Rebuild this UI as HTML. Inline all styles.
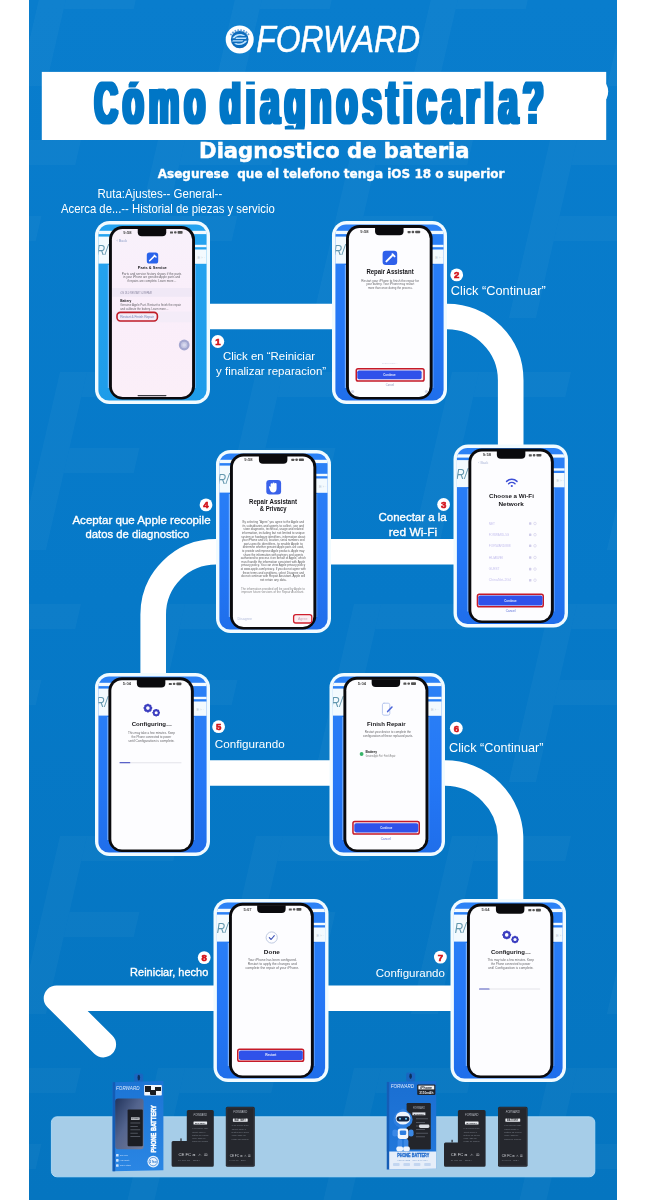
<!DOCTYPE html>
<html lang="es"><head><meta charset="utf-8"><title>Cómo diagnosticarla?</title>
<style>
html,body{margin:0;padding:0;background:#fff;}
body{width:646px;height:1200px;overflow:hidden;position:relative;font-family:"Liberation Sans",sans-serif;}
svg{position:absolute;left:0;top:0;display:block;}
text{white-space:pre;}
</style></head><body>
<svg width="646" height="1200" viewBox="0 0 646 1200">
<defs>
<linearGradient id="cg1" x1="0" y1="0" x2="0" y2="1"><stop offset="0" stop-color="#25a4f0"/><stop offset="1" stop-color="#1e9ce9"/></linearGradient>
<linearGradient id="cg2" x1="0" y1="0" x2="0" y2="1"><stop offset="0" stop-color="#2c82f6"/><stop offset="0.6" stop-color="#2477f6"/><stop offset="1" stop-color="#1f6eea"/></linearGradient>
<linearGradient id="sg1" x1="0" y1="0" x2="0" y2="1"><stop offset="0" stop-color="#f8f1fb"/><stop offset="0.5" stop-color="#faeefa"/><stop offset="1" stop-color="#fbeff8"/></linearGradient>
<filter id="fat" x="-5%" y="-20%" width="110%" height="140%"><feMorphology operator="dilate" radius="2 0.5"/></filter>
</defs>
<linearGradient id="bgg" x1="0" y1="0" x2="0" y2="1"><stop offset="0" stop-color="#097dcd"/><stop offset="0.5" stop-color="#0679c8"/><stop offset="1" stop-color="#0575c0"/></linearGradient>
<rect x="29" y="0" width="588" height="1200" fill="url(#bgg)"/>
<clipPath id="bgc"><rect x="29" y="0" width="588" height="1200"/></clipPath>
<g clip-path="url(#bgc)" fill="#ffffff" opacity="0.035">
<g transform="translate(-38,-324) skewX(-13)"><rect x="0" y="0" width="27" height="178"/><rect x="27" y="0" width="92" height="25"/><rect x="27" y="76" width="70" height="25"/></g>
<g transform="translate(158,-324) skewX(-13)"><rect x="0" y="0" width="27" height="178"/><rect x="27" y="0" width="92" height="25"/><rect x="27" y="76" width="70" height="25"/></g>
<g transform="translate(354,-324) skewX(-13)"><rect x="0" y="0" width="27" height="178"/><rect x="27" y="0" width="92" height="25"/><rect x="27" y="76" width="70" height="25"/></g>
<g transform="translate(550,-324) skewX(-13)"><rect x="0" y="0" width="27" height="178"/><rect x="27" y="0" width="92" height="25"/><rect x="27" y="76" width="70" height="25"/></g>
<g transform="translate(746,-324) skewX(-13)"><rect x="0" y="0" width="27" height="178"/><rect x="27" y="0" width="92" height="25"/><rect x="27" y="76" width="70" height="25"/></g>
<g transform="translate(-136,-92) skewX(-13)"><rect x="0" y="0" width="27" height="178"/><rect x="27" y="0" width="92" height="25"/><rect x="27" y="76" width="70" height="25"/></g>
<g transform="translate(60,-92) skewX(-13)"><rect x="0" y="0" width="27" height="178"/><rect x="27" y="0" width="92" height="25"/><rect x="27" y="76" width="70" height="25"/></g>
<g transform="translate(256,-92) skewX(-13)"><rect x="0" y="0" width="27" height="178"/><rect x="27" y="0" width="92" height="25"/><rect x="27" y="76" width="70" height="25"/></g>
<g transform="translate(452,-92) skewX(-13)"><rect x="0" y="0" width="27" height="178"/><rect x="27" y="0" width="92" height="25"/><rect x="27" y="76" width="70" height="25"/></g>
<g transform="translate(648,-92) skewX(-13)"><rect x="0" y="0" width="27" height="178"/><rect x="27" y="0" width="92" height="25"/><rect x="27" y="76" width="70" height="25"/></g>
<g transform="translate(-38,140) skewX(-13)"><rect x="0" y="0" width="27" height="178"/><rect x="27" y="0" width="92" height="25"/><rect x="27" y="76" width="70" height="25"/></g>
<g transform="translate(158,140) skewX(-13)"><rect x="0" y="0" width="27" height="178"/><rect x="27" y="0" width="92" height="25"/><rect x="27" y="76" width="70" height="25"/></g>
<g transform="translate(354,140) skewX(-13)"><rect x="0" y="0" width="27" height="178"/><rect x="27" y="0" width="92" height="25"/><rect x="27" y="76" width="70" height="25"/></g>
<g transform="translate(550,140) skewX(-13)"><rect x="0" y="0" width="27" height="178"/><rect x="27" y="0" width="92" height="25"/><rect x="27" y="76" width="70" height="25"/></g>
<g transform="translate(746,140) skewX(-13)"><rect x="0" y="0" width="27" height="178"/><rect x="27" y="0" width="92" height="25"/><rect x="27" y="76" width="70" height="25"/></g>
<g transform="translate(-136,372) skewX(-13)"><rect x="0" y="0" width="27" height="178"/><rect x="27" y="0" width="92" height="25"/><rect x="27" y="76" width="70" height="25"/></g>
<g transform="translate(60,372) skewX(-13)"><rect x="0" y="0" width="27" height="178"/><rect x="27" y="0" width="92" height="25"/><rect x="27" y="76" width="70" height="25"/></g>
<g transform="translate(256,372) skewX(-13)"><rect x="0" y="0" width="27" height="178"/><rect x="27" y="0" width="92" height="25"/><rect x="27" y="76" width="70" height="25"/></g>
<g transform="translate(452,372) skewX(-13)"><rect x="0" y="0" width="27" height="178"/><rect x="27" y="0" width="92" height="25"/><rect x="27" y="76" width="70" height="25"/></g>
<g transform="translate(648,372) skewX(-13)"><rect x="0" y="0" width="27" height="178"/><rect x="27" y="0" width="92" height="25"/><rect x="27" y="76" width="70" height="25"/></g>
<g transform="translate(-38,604) skewX(-13)"><rect x="0" y="0" width="27" height="178"/><rect x="27" y="0" width="92" height="25"/><rect x="27" y="76" width="70" height="25"/></g>
<g transform="translate(158,604) skewX(-13)"><rect x="0" y="0" width="27" height="178"/><rect x="27" y="0" width="92" height="25"/><rect x="27" y="76" width="70" height="25"/></g>
<g transform="translate(354,604) skewX(-13)"><rect x="0" y="0" width="27" height="178"/><rect x="27" y="0" width="92" height="25"/><rect x="27" y="76" width="70" height="25"/></g>
<g transform="translate(550,604) skewX(-13)"><rect x="0" y="0" width="27" height="178"/><rect x="27" y="0" width="92" height="25"/><rect x="27" y="76" width="70" height="25"/></g>
<g transform="translate(746,604) skewX(-13)"><rect x="0" y="0" width="27" height="178"/><rect x="27" y="0" width="92" height="25"/><rect x="27" y="76" width="70" height="25"/></g>
<g transform="translate(-136,836) skewX(-13)"><rect x="0" y="0" width="27" height="178"/><rect x="27" y="0" width="92" height="25"/><rect x="27" y="76" width="70" height="25"/></g>
<g transform="translate(60,836) skewX(-13)"><rect x="0" y="0" width="27" height="178"/><rect x="27" y="0" width="92" height="25"/><rect x="27" y="76" width="70" height="25"/></g>
<g transform="translate(256,836) skewX(-13)"><rect x="0" y="0" width="27" height="178"/><rect x="27" y="0" width="92" height="25"/><rect x="27" y="76" width="70" height="25"/></g>
<g transform="translate(452,836) skewX(-13)"><rect x="0" y="0" width="27" height="178"/><rect x="27" y="0" width="92" height="25"/><rect x="27" y="76" width="70" height="25"/></g>
<g transform="translate(648,836) skewX(-13)"><rect x="0" y="0" width="27" height="178"/><rect x="27" y="0" width="92" height="25"/><rect x="27" y="76" width="70" height="25"/></g>
<g transform="translate(-38,1068) skewX(-13)"><rect x="0" y="0" width="27" height="178"/><rect x="27" y="0" width="92" height="25"/><rect x="27" y="76" width="70" height="25"/></g>
<g transform="translate(158,1068) skewX(-13)"><rect x="0" y="0" width="27" height="178"/><rect x="27" y="0" width="92" height="25"/><rect x="27" y="76" width="70" height="25"/></g>
<g transform="translate(354,1068) skewX(-13)"><rect x="0" y="0" width="27" height="178"/><rect x="27" y="0" width="92" height="25"/><rect x="27" y="76" width="70" height="25"/></g>
<g transform="translate(550,1068) skewX(-13)"><rect x="0" y="0" width="27" height="178"/><rect x="27" y="0" width="92" height="25"/><rect x="27" y="76" width="70" height="25"/></g>
<g transform="translate(746,1068) skewX(-13)"><rect x="0" y="0" width="27" height="178"/><rect x="27" y="0" width="92" height="25"/><rect x="27" y="76" width="70" height="25"/></g>
</g>
<rect x="41.8" y="71.9" width="564.4" height="68.1" fill="#ffffff"/>
<ellipse cx="602.6" cy="91.6" rx="5.6" ry="9.8" fill="#ffffff"/>
<g fill="none" stroke="#ffffff" stroke-width="25.6">
<path d="M200,316.5 H447 A63.7,63.7 0 0 1 510.7,380.2 V450"/>
<path d="M460,551.8 H216 A62.8,62.8 0 0 0 153.2,614.6 V680"/>
<path d="M200,773 H445 A65.5,65.5 0 0 1 510.5,838.5 V905"/>
<path d="M460,998.2 H56.5 L103.3,1044.6" stroke-linecap="round" stroke-linejoin="round"/>
</g>
<rect x="51.4" y="1116.8" width="543.4" height="60" rx="5.5" fill="#a6cde8" stroke="#b3ddf6" stroke-width="0.9"/>

<clipPath id="cc1"><rect x="98.4" y="224.4" width="108.2" height="176.2" rx="10.6"/></clipPath>
<rect x="95" y="221" width="115" height="183" rx="14.5" fill="#f1fbff"/>
<g clip-path="url(#cc1)">
<rect x="95" y="221" width="115" height="183" fill="url(#cg1)"/>
<rect x="95" y="230.8" width="115" height="3.3" fill="#f3fafe"/>
<rect x="95" y="236.6" width="57.0" height="27" fill="#f3fafe"/>
<text x="96.8" y="255.4" font-family="'Liberation Sans', sans-serif" font-style="italic" font-size="15.5" fill="#3f7f9a" opacity="0.8" textLength="11.5" lengthAdjust="spacingAndGlyphs">R/</text>
<rect x="152.0" y="244.8" width="115" height="2.4" fill="#f3fafe"/>
<rect x="152.0" y="249.5" width="115" height="14.3" fill="#f3fafe"/>
<text x="197.6" y="258.6" font-family="'Liberation Sans', sans-serif" font-size="4" fill="#b9c6d2">E › ·</text>
<rect x="107.8" y="265" width="1.6" height="123" fill="#9cc8ff" opacity="0.7"/>
<rect x="194.6" y="265" width="1.4" height="123" fill="#9cc8ff" opacity="0.5"/>
</g>
<rect x="109" y="226" width="86" height="173.5" rx="13.5" fill="#0a0a0d"/>
<rect x="111.9" y="228.9" width="80.2" height="168.2" rx="10.6" fill="url(#sg1)"/>
<path d="M137.75,228.5 h28.5 v3.6999999999999993 a4,4 0 0 1 -4,4 h-20.5 a4,4 0 0 1 -4,-4 z" fill="#0a0a0d"/>
<text transform="translate(123.33,233.60) scale(1.2191,1)" font-family="'Liberation Sans', sans-serif" font-size="3.4" font-weight="bold" font-style="normal" fill="#444" >9:58</text>
<g fill="#555"><rect x="170" y="231.4" width="3" height="2.2" rx="0.4"/><rect x="174" y="231.2" width="2.6" height="2.4" rx="1"/><rect x="177.6" y="231.1" width="5" height="2.6" rx="0.7"/></g>
<text transform="translate(116.45,242.30) scale(1.1873,1)" font-family="'Liberation Sans', sans-serif" font-size="3.2" font-weight="normal" font-style="normal" fill="#8fa0c8" >‹ Back</text>
<rect x="146.8" y="252.4" width="11.4" height="11.2" rx="2.6" fill="#2a63ea"/>
<path d="M149.6,260.8 l4.2,-4.2 m0.4,-1.4 l1.8,1.8" stroke="#fff" stroke-width="1.5" stroke-linecap="round" fill="none"/>
<text transform="translate(137.82,269.20) scale(0.9199,1)" font-family="'Liberation Sans', sans-serif" font-size="4.3" font-weight="bold" font-style="normal" fill="#1a1a1e" >Parts &amp; Service</text>
<text transform="translate(121.75,274.80) scale(0.9603,1)" font-family="'Liberation Sans', sans-serif" font-size="3.28" font-weight="normal" font-style="normal" fill="#4a4a4e" opacity="0.85">Parts and service history shows if the parts</text>
<text transform="translate(123.14,278.25) scale(0.9090,1)" font-family="'Liberation Sans', sans-serif" font-size="3.28" font-weight="normal" font-style="normal" fill="#4a4a4e" opacity="0.85">in your iPhone are genuine Apple parts and</text>
<text transform="translate(127.20,281.70) scale(0.9072,1)" font-family="'Liberation Sans', sans-serif" font-size="3.28" font-weight="normal" font-style="normal" fill="#4a4a4e" opacity="0.85">if repairs are complete. Learn more…</text>
<rect x="112.2" y="288" width="79.6" height="8.8" fill="#f0e8f6"/>
<text transform="translate(120.24,293.70) scale(0.8689,1)" font-family="'Liberation Sans', sans-serif" font-size="2.7" font-weight="normal" font-style="normal" fill="#8a86a0" >iOS 18.0 RESTART &amp; REPAIR</text>
<text transform="translate(120.18,301.90) scale(0.9156,1)" font-family="'Liberation Sans', sans-serif" font-size="3.5" font-weight="bold" font-style="normal" fill="#1a1a1e" >Battery</text>
<text transform="translate(120.25,306.40) scale(0.9305,1)" font-family="'Liberation Sans', sans-serif" font-size="3.16" font-weight="normal" font-style="normal" fill="#4a4a4e" opacity="0.85">Genuine Apple Part. Restart to finish the repair</text>
<text transform="translate(120.29,309.90) scale(0.8852,1)" font-family="'Liberation Sans', sans-serif" font-size="3.16" font-weight="normal" font-style="normal" fill="#4a4a4e" opacity="0.85">and calibrate the battery. Learn more…</text>
<rect x="112.2" y="311.5" width="79.6" height="10.8" fill="#f4ecf8"/>
<rect x="117" y="312.4" width="40.4" height="8.6" rx="3.4" fill="none" stroke="#c01c28" stroke-width="1.6"/>
<text transform="translate(120.14,317.90) scale(1.1247,1)" font-family="'Liberation Sans', sans-serif" font-size="2.9" font-weight="normal" font-style="normal" fill="#6d7fb5" >Restart &amp; Finish Repair</text>
<circle cx="184.2" cy="345" r="5.4" fill="#a3a6cf"/><circle cx="184.2" cy="345" r="3.2" fill="#c3c5e2"/><circle cx="184.2" cy="345" r="1.8" fill="#d8d9ee"/>
<rect x="137.5" y="394.9" width="29" height="1.3" rx="0.65" fill="#3a3a40"/>
<clipPath id="cc2"><rect x="335.4" y="224.4" width="108.2" height="176.2" rx="10.6"/></clipPath>
<rect x="332" y="221" width="115" height="183" rx="14.5" fill="#f1fbff"/>
<g clip-path="url(#cc2)">
<rect x="332" y="221" width="115" height="183" fill="url(#cg2)"/>
<rect x="332" y="230.8" width="115" height="3.3" fill="#f3fafe"/>
<rect x="332" y="236.6" width="57.30000000000001" height="27" fill="#f3fafe"/>
<text x="333.8" y="255.4" font-family="'Liberation Sans', sans-serif" font-style="italic" font-size="15.5" fill="#3f7f9a" opacity="0.8" textLength="11.5" lengthAdjust="spacingAndGlyphs">R/</text>
<rect x="389.3" y="244.8" width="115" height="2.4" fill="#f3fafe"/>
<rect x="389.3" y="249.5" width="115" height="14.3" fill="#f3fafe"/>
<text x="435.20000000000005" y="258.6" font-family="'Liberation Sans', sans-serif" font-size="4" fill="#b9c6d2">E › ·</text>
<rect x="344.8" y="265" width="1.6" height="123" fill="#9cc8ff" opacity="0.7"/>
<rect x="432.20000000000005" y="265" width="1.4" height="123" fill="#9cc8ff" opacity="0.5"/>
</g>
<rect x="346" y="225" width="86.60000000000002" height="174.39999999999998" rx="13.5" fill="#0a0a0d"/>
<rect x="348.9" y="227.9" width="80.80000000000003" height="169.09999999999997" rx="10.6" fill="#fdfdff"/>
<path d="M375.05,227.5 h28.5 v3.6999999999999993 a4,4 0 0 1 -4,4 h-20.5 a4,4 0 0 1 -4,-4 z" fill="#0a0a0d"/>
<text transform="translate(360.33,233.20) scale(1.2191,1)" font-family="'Liberation Sans', sans-serif" font-size="3.4" font-weight="bold" font-style="normal" fill="#444" >9:58</text>
<g fill="#555"><rect x="407.6" y="231.0" width="3" height="2.2" rx="0.4"/><rect x="411.6" y="230.79999999999998" width="2.6" height="2.4" rx="1"/><rect x="415.20000000000005" y="230.7" width="5" height="2.6" rx="0.7"/></g>
<rect x="382.6" y="250.8" width="14.6" height="14.2" rx="3.2" fill="#2f60ea"/>
<path d="M386.4,261.4 l5.4,-5.4 m0.6,-1.8 l2.2,2.2" stroke="#fff" stroke-width="1.9" stroke-linecap="round" fill="none"/>
<text transform="translate(366.38,274.00) scale(0.9561,1)" font-family="'Liberation Sans', sans-serif" font-size="6.3" font-weight="bold" font-style="normal" fill="#17171b" >Repair Assistant</text>
<text transform="translate(361.35,281.60) scale(0.9197,1)" font-family="'Liberation Sans', sans-serif" font-size="3.39" font-weight="normal" font-style="normal" fill="#4a4a4e" opacity="0.85">Restart your iPhone to finish the repair for</text>
<text transform="translate(366.17,285.30) scale(0.8666,1)" font-family="'Liberation Sans', sans-serif" font-size="3.39" font-weight="normal" font-style="normal" fill="#4a4a4e" opacity="0.85">your battery. Your iPhone may restart</text>
<text transform="translate(367.92,289.00) scale(0.8403,1)" font-family="'Liberation Sans', sans-serif" font-size="3.39" font-weight="normal" font-style="normal" fill="#4a4a4e" opacity="0.85">more than once during the process.</text>
<text transform="translate(381.78,363.80) scale(1.1299,1)" font-family="'Liberation Sans', sans-serif" font-size="2.4" font-weight="normal" font-style="normal" fill="#c9cde0" >Learn more…</text>
<rect x="356.25" y="368.75" width="67.80" height="12.20" rx="1.8" fill="#f6e9f0" stroke="#c51a28" stroke-width="1.5"/>
<rect x="357.3" y="370.4" width="64.30000000000001" height="8.800000000000011" rx="1.8" fill="#2f52ea"/>
<text transform="translate(383.34,375.90) scale(0.8803,1)" font-family="'Liberation Sans', sans-serif" font-size="3.2" font-weight="bold" font-style="normal" fill="#e8ecff" >Continue</text>
<text transform="translate(385.87,386.40) scale(0.9524,1)" font-family="'Liberation Sans', sans-serif" font-size="2.8" font-weight="normal" font-style="normal" fill="#8d93b8" >Cancel</text>
<circle cx="352.6" cy="391.6" r="1.6" fill="#d5d8ea"/><circle cx="426.4" cy="391.6" r="1.6" fill="#d5d8ea"/>
<clipPath id="cc3"><rect x="456.9" y="447.9" width="107.7" height="176.2" rx="10.6"/></clipPath>
<rect x="453.5" y="444.5" width="114.5" height="183.0" rx="14.5" fill="#f1fbff"/>
<g clip-path="url(#cc3)">
<rect x="453.5" y="444.5" width="114.5" height="183.0" fill="url(#cg2)"/>
<rect x="453.5" y="454.3" width="114.5" height="3.3" fill="#f3fafe"/>
<rect x="453.5" y="460.1" width="57.599999999999966" height="27" fill="#f3fafe"/>
<text x="456.2" y="478.9" font-family="'Liberation Sans', sans-serif" font-style="italic" font-size="15.5" fill="#3f7f9a" opacity="0.8" textLength="11.5" lengthAdjust="spacingAndGlyphs">R/</text>
<rect x="511.09999999999997" y="468.3" width="114.5" height="2.4" fill="#f3fafe"/>
<rect x="511.09999999999997" y="473.0" width="114.5" height="14.3" fill="#f3fafe"/>
<text x="556.4" y="482.1" font-family="'Liberation Sans', sans-serif" font-size="4" fill="#b9c6d2">E › ·</text>
<rect x="467.2" y="488.5" width="1.6" height="123.0" fill="#9cc8ff" opacity="0.7"/>
<rect x="553.4" y="488.5" width="1.4" height="123.0" fill="#9cc8ff" opacity="0.5"/>
</g>
<rect x="468.4" y="448.6" width="85.39999999999998" height="174.39999999999998" rx="13.5" fill="#0a0a0d"/>
<rect x="471.29999999999995" y="451.5" width="79.59999999999998" height="169.09999999999997" rx="10.6" fill="#fdfdff"/>
<path d="M496.84999999999997,451.1 h28.5 v3.6999999999999993 a4,4 0 0 1 -4,4 h-20.5 a4,4 0 0 1 -4,-4 z" fill="#0a0a0d"/>
<text transform="translate(482.73,456.40) scale(1.2191,1)" font-family="'Liberation Sans', sans-serif" font-size="3.4" font-weight="bold" font-style="normal" fill="#444" >9:58</text>
<g fill="#555"><rect x="528.8" y="454.20000000000005" width="3" height="2.2" rx="0.4"/><rect x="532.8" y="454.00000000000006" width="2.6" height="2.4" rx="1"/><rect x="536.4" y="453.90000000000003" width="5" height="2.6" rx="0.7"/></g>
<text transform="translate(478.26,464.20) scale(1.1201,1)" font-family="'Liberation Sans', sans-serif" font-size="3.2" font-weight="normal" font-style="normal" fill="#a9b4d6" >‹ Back</text>
<g fill="none" stroke="#3d4fd6" stroke-width="1.5" stroke-linecap="round"><path d="M506.6,481.4 a7.6,7.6 0 0 1 10.4,0"/><path d="M508.6,483.7 a4.7,4.7 0 0 1 6.4,0"/></g><circle cx="511.8" cy="486" r="1.1" fill="#3d4fd6"/>
<text transform="translate(489.05,498.30) scale(1.0041,1)" font-family="'Liberation Sans', sans-serif" font-size="6.2" font-weight="bold" font-style="normal" fill="#17171b" >Choose a Wi-Fi</text>
<text transform="translate(498.45,505.70) scale(1.0336,1)" font-family="'Liberation Sans', sans-serif" font-size="6.2" font-weight="bold" font-style="normal" fill="#17171b" >Network</text>
<text transform="translate(488.75,524.70) scale(0.9868,1)" font-family="'Liberation Sans', sans-serif" font-size="3.2" font-weight="normal" font-style="normal" fill="#c6c1ee" >NET</text>
<rect x="529" y="522.2" width="2.4" height="2.6" rx="0.6" fill="#d0cdea"/><circle cx="535" cy="523.5" r="1.3" fill="none" stroke="#d0cdea" stroke-width="0.6"/>
<text transform="translate(488.76,535.90) scale(0.9441,1)" font-family="'Liberation Sans', sans-serif" font-size="3.2" font-weight="normal" font-style="normal" fill="#c6c1ee" >FORWARD-5G</text>
<rect x="529" y="533.4" width="2.4" height="2.6" rx="0.6" fill="#d0cdea"/><circle cx="535" cy="534.6999999999999" r="1.3" fill="none" stroke="#d0cdea" stroke-width="0.6"/>
<text transform="translate(488.74,547.00) scale(1.0103,1)" font-family="'Liberation Sans', sans-serif" font-size="3.2" font-weight="normal" font-style="normal" fill="#c6c1ee" >FORWARD888</text>
<rect x="529" y="544.5" width="2.4" height="2.6" rx="0.6" fill="#d0cdea"/><circle cx="535" cy="545.8" r="1.3" fill="none" stroke="#d0cdea" stroke-width="0.6"/>
<text transform="translate(488.70,558.70) scale(1.1544,1)" font-family="'Liberation Sans', sans-serif" font-size="3.2" font-weight="normal" font-style="normal" fill="#c6c1ee" >HUAWEI</text>
<rect x="529" y="556.2" width="2.4" height="2.6" rx="0.6" fill="#d0cdea"/><circle cx="535" cy="557.5" r="1.3" fill="none" stroke="#d0cdea" stroke-width="0.6"/>
<text transform="translate(488.84,570.30) scale(0.9737,1)" font-family="'Liberation Sans', sans-serif" font-size="3.2" font-weight="normal" font-style="normal" fill="#c6c1ee" >GUEST</text>
<rect x="529" y="567.8000000000001" width="2.4" height="2.6" rx="0.6" fill="#d0cdea"/><circle cx="535" cy="569.1" r="1.3" fill="none" stroke="#d0cdea" stroke-width="0.6"/>
<text transform="translate(488.83,581.40) scale(1.0895,1)" font-family="'Liberation Sans', sans-serif" font-size="3.2" font-weight="normal" font-style="normal" fill="#c6c1ee" >ChinaNet-2G4</text>
<rect x="529" y="578.9" width="2.4" height="2.6" rx="0.6" fill="#d0cdea"/><circle cx="535" cy="580.1999999999999" r="1.3" fill="none" stroke="#d0cdea" stroke-width="0.6"/>
<rect x="477.45" y="594.35" width="65.80" height="12.50" rx="1.8" fill="#f6e9f0" stroke="#c51a28" stroke-width="1.5"/>
<rect x="478.3" y="595.5" width="64.19999999999999" height="10.0" rx="1.8" fill="#2f52ea"/>
<text transform="translate(504.29,601.60) scale(0.8803,1)" font-family="'Liberation Sans', sans-serif" font-size="3.2" font-weight="bold" font-style="normal" fill="#e8ecff" >Continue</text>
<text transform="translate(505.64,612.40) scale(1.1034,1)" font-family="'Liberation Sans', sans-serif" font-size="2.9" font-weight="normal" font-style="normal" fill="#5b6fd8" >Cancel</text>
<clipPath id="cc4"><rect x="219.4" y="453.4" width="108.2" height="176.2" rx="10.6"/></clipPath>
<rect x="216" y="450" width="115" height="183" rx="14.5" fill="#f1fbff"/>
<g clip-path="url(#cc4)">
<rect x="216" y="450" width="115" height="183" fill="url(#cg2)"/>
<rect x="216" y="459.8" width="115" height="3.3" fill="#f3fafe"/>
<rect x="216" y="465.6" width="57.14999999999998" height="27" fill="#f3fafe"/>
<text x="217.8" y="484.4" font-family="'Liberation Sans', sans-serif" font-style="italic" font-size="15.5" fill="#3f7f9a" opacity="0.8" textLength="11.5" lengthAdjust="spacingAndGlyphs">R/</text>
<rect x="273.15" y="473.8" width="115" height="2.4" fill="#f3fafe"/>
<rect x="273.15" y="478.5" width="115" height="14.3" fill="#f3fafe"/>
<text x="318.90000000000003" y="487.6" font-family="'Liberation Sans', sans-serif" font-size="4" fill="#b9c6d2">E › ·</text>
<rect x="228.8" y="494" width="1.6" height="123" fill="#9cc8ff" opacity="0.7"/>
<rect x="315.90000000000003" y="494" width="1.4" height="123" fill="#9cc8ff" opacity="0.5"/>
</g>
<rect x="230" y="453.6" width="86.30000000000001" height="175.79999999999995" rx="13.5" fill="#0a0a0d"/>
<rect x="232.9" y="456.5" width="80.50000000000001" height="170.49999999999994" rx="10.6" fill="#fdfdff"/>
<path d="M258.9,456.1 h28.5 v3.6999999999999993 a4,4 0 0 1 -4,4 h-20.5 a4,4 0 0 1 -4,-4 z" fill="#0a0a0d"/>
<text transform="translate(244.33,461.00) scale(1.2191,1)" font-family="'Liberation Sans', sans-serif" font-size="3.4" font-weight="bold" font-style="normal" fill="#444" >9:58</text>
<g fill="#555"><rect x="291.3" y="458.8" width="3" height="2.2" rx="0.4"/><rect x="295.3" y="458.6" width="2.6" height="2.4" rx="1"/><rect x="298.90000000000003" y="458.5" width="5" height="2.6" rx="0.7"/></g>
<rect x="266.3" y="480" width="14.8" height="14.4" rx="3.2" fill="#3a62ea"/>
<path d="M270.6,486 v-1.8 a1,1 0 0 1 2,0 v-0.8 a1,1 0 0 1 2,0 v0.6 a1,1 0 0 1 2,0 v4.4 c0,2.6 -1.4,4 -3.4,4 c-1.8,0 -2.8,-1.2 -3.4,-3 l-0.8,-2.2 c-0.2,-0.8 0.9,-1.3 1.6,-0.2 z" fill="#ffffff"/>
<text transform="translate(248.97,503.80) scale(0.9724,1)" font-family="'Liberation Sans', sans-serif" font-size="6.3" font-weight="bold" font-style="normal" fill="#17171b" >Repair Assistant</text>
<text transform="translate(259.76,511.30) scale(0.9362,1)" font-family="'Liberation Sans', sans-serif" font-size="6.3" font-weight="bold" font-style="normal" fill="#17171b" >&amp; Privacy</text>
<text transform="translate(242.52,523.20) scale(0.9528,1)" font-family="'Liberation Sans', sans-serif" font-size="3.05" font-weight="normal" font-style="normal" fill="#333" opacity="0.8">By selecting “Agree” you agree to the Apple and</text>
<text transform="translate(242.54,526.80) scale(1.0052,1)" font-family="'Liberation Sans', sans-serif" font-size="3.05" font-weight="normal" font-style="normal" fill="#333" opacity="0.8">its subsidiaries and agents to collect, use and</text>
<text transform="translate(243.32,530.40) scale(0.9848,1)" font-family="'Liberation Sans', sans-serif" font-size="3.05" font-weight="normal" font-style="normal" fill="#333" opacity="0.8">store diagnostic, technical, usage and related</text>
<text transform="translate(241.89,534.00) scale(1.0144,1)" font-family="'Liberation Sans', sans-serif" font-size="3.05" font-weight="normal" font-style="normal" fill="#333" opacity="0.8">information, including but not limited to unique</text>
<text transform="translate(241.36,537.60) scale(0.9708,1)" font-family="'Liberation Sans', sans-serif" font-size="3.05" font-weight="normal" font-style="normal" fill="#333" opacity="0.8">system or hardware identifiers, information about</text>
<text transform="translate(242.10,541.20) scale(0.9375,1)" font-family="'Liberation Sans', sans-serif" font-size="3.05" font-weight="normal" font-style="normal" fill="#333" opacity="0.8">your iPhone and 5G, location, serial numbers and</text>
<text transform="translate(243.84,544.80) scale(1.0456,1)" font-family="'Liberation Sans', sans-serif" font-size="3.05" font-weight="normal" font-style="normal" fill="#333" opacity="0.8">part-specific identifiers, to enable Apple to</text>
<text transform="translate(242.64,548.40) scale(0.9252,1)" font-family="'Liberation Sans', sans-serif" font-size="3.05" font-weight="normal" font-style="normal" fill="#333" opacity="0.8">determine whether genuine Apple parts are used,</text>
<text transform="translate(242.05,552.00) scale(0.9215,1)" font-family="'Liberation Sans', sans-serif" font-size="3.05" font-weight="normal" font-style="normal" fill="#333" opacity="0.8">to provide and improve Apple products. Apple may</text>
<text transform="translate(243.32,555.60) scale(0.9566,1)" font-family="'Liberation Sans', sans-serif" font-size="3.05" font-weight="normal" font-style="normal" fill="#333" opacity="0.8">share the information with partners and agents</text>
<text transform="translate(240.68,559.20) scale(0.9883,1)" font-family="'Liberation Sans', sans-serif" font-size="3.05" font-weight="normal" font-style="normal" fill="#333" opacity="0.8">authorized to process it on behalf of Apple, which</text>
<text transform="translate(241.25,562.80) scale(0.9592,1)" font-family="'Liberation Sans', sans-serif" font-size="3.05" font-weight="normal" font-style="normal" fill="#333" opacity="0.8">must handle the information consistent with Apple</text>
<text transform="translate(241.24,566.40) scale(0.9831,1)" font-family="'Liberation Sans', sans-serif" font-size="3.05" font-weight="normal" font-style="normal" fill="#333" opacity="0.8">privacy policy. You can view Apple privacy policy</text>
<text transform="translate(240.68,570.00) scale(0.9573,1)" font-family="'Liberation Sans', sans-serif" font-size="3.05" font-weight="normal" font-style="normal" fill="#333" opacity="0.8">at www.apple.com/privacy. If you do not agree with</text>
<text transform="translate(242.70,573.60) scale(0.9452,1)" font-family="'Liberation Sans', sans-serif" font-size="3.05" font-weight="normal" font-style="normal" fill="#333" opacity="0.8">these terms and conditions, select Disagree and</text>
<text transform="translate(241.33,577.20) scale(0.9966,1)" font-family="'Liberation Sans', sans-serif" font-size="3.05" font-weight="normal" font-style="normal" fill="#333" opacity="0.8">do not continue with Repair Assistant. Apple will</text>
<text transform="translate(260.14,580.80) scale(1.0180,1)" font-family="'Liberation Sans', sans-serif" font-size="3.05" font-weight="normal" font-style="normal" fill="#333" opacity="0.8">not retain any data.</text>
<text transform="translate(240.94,589.60) scale(0.9657,1)" font-family="'Liberation Sans', sans-serif" font-size="3.05" font-weight="normal" font-style="normal" fill="#555" opacity="0.7">The information provided will be used by Apple to</text>
<text transform="translate(241.44,593.30) scale(0.9887,1)" font-family="'Liberation Sans', sans-serif" font-size="3.05" font-weight="normal" font-style="normal" fill="#555" opacity="0.7">improve future versions of the Repair Assistant.</text>
<text transform="translate(237.51,619.80) scale(1.1090,1)" font-family="'Liberation Sans', sans-serif" font-size="3.3" font-weight="normal" font-style="normal" fill="#b4bddc" >Disagree</text>
<rect x="293.6" y="614.6" width="18.2" height="8.4" rx="2.2" fill="#fbeef2" stroke="#cf1f2d" stroke-width="1.3"/>
<text transform="translate(297.95,620.00) scale(1.0988,1)" font-family="'Liberation Sans', sans-serif" font-size="3.3" font-weight="normal" font-style="normal" fill="#c9a5b8" >Agree</text>
<clipPath id="cc5"><rect x="98.4" y="676.4" width="108.2" height="176.2" rx="10.6"/></clipPath>
<rect x="95" y="673" width="115" height="183" rx="14.5" fill="#f1fbff"/>
<g clip-path="url(#cc5)">
<rect x="95" y="673" width="115" height="183" fill="url(#cg2)"/>
<rect x="95" y="682.8" width="115" height="3.3" fill="#f3fafe"/>
<rect x="95" y="688.6" width="56.10000000000002" height="27" fill="#f3fafe"/>
<text x="96.2" y="707.4" font-family="'Liberation Sans', sans-serif" font-style="italic" font-size="15.5" fill="#3f7f9a" opacity="0.8" textLength="11.5" lengthAdjust="spacingAndGlyphs">R/</text>
<rect x="151.10000000000002" y="696.8" width="115" height="2.4" fill="#f3fafe"/>
<rect x="151.10000000000002" y="701.5" width="115" height="14.3" fill="#f3fafe"/>
<text x="196.4" y="710.6" font-family="'Liberation Sans', sans-serif" font-size="4" fill="#b9c6d2">E › ·</text>
<rect x="107.2" y="717" width="1.6" height="123" fill="#9cc8ff" opacity="0.7"/>
<rect x="193.4" y="717" width="1.4" height="123" fill="#9cc8ff" opacity="0.5"/>
</g>
<rect x="108.4" y="677.3" width="85.4" height="174.70000000000005" rx="13.5" fill="#0a0a0d"/>
<rect x="111.30000000000001" y="680.1999999999999" width="79.60000000000001" height="169.40000000000003" rx="10.6" fill="#fdfdff"/>
<path d="M136.85000000000002,679.8 h28.5 v3.6999999999999993 a4,4 0 0 1 -4,4 h-20.5 a4,4 0 0 1 -4,-4 z" fill="#0a0a0d"/>
<text transform="translate(122.78,685.10) scale(1.1944,1)" font-family="'Liberation Sans', sans-serif" font-size="3.4" font-weight="bold" font-style="normal" fill="#444" >5:04</text>
<g fill="#555"><rect x="168.8" y="682.8999999999999" width="3" height="2.2" rx="0.4"/><rect x="172.8" y="682.6999999999999" width="2.6" height="2.4" rx="1"/><rect x="176.4" y="682.5999999999999" width="5" height="2.6" rx="0.7"/></g>
<circle cx="147.89999999999998" cy="708.1" r="2.84" fill="none" stroke="#3d3fc0" stroke-width="2.15"/>
<rect x="146.87" y="703.80" width="2.06" height="8.60" rx="0.43" fill="#3d3fc0" transform="rotate(0.0 147.89999999999998 708.1)"/>
<rect x="146.87" y="703.80" width="2.06" height="8.60" rx="0.43" fill="#3d3fc0" transform="rotate(45.0 147.89999999999998 708.1)"/>
<rect x="146.87" y="703.80" width="2.06" height="8.60" rx="0.43" fill="#3d3fc0" transform="rotate(90.0 147.89999999999998 708.1)"/>
<rect x="146.87" y="703.80" width="2.06" height="8.60" rx="0.43" fill="#3d3fc0" transform="rotate(135.0 147.89999999999998 708.1)"/>
<circle cx="147.89999999999998" cy="708.1" r="1.81" fill="#fdfdff"/>
<circle cx="156.2" cy="712.6999999999999" r="2.44" fill="none" stroke="#3d3fc0" stroke-width="1.85"/>
<rect x="155.31" y="709.00" width="1.78" height="7.40" rx="0.37" fill="#3d3fc0" transform="rotate(0.0 156.2 712.6999999999999)"/>
<rect x="155.31" y="709.00" width="1.78" height="7.40" rx="0.37" fill="#3d3fc0" transform="rotate(45.0 156.2 712.6999999999999)"/>
<rect x="155.31" y="709.00" width="1.78" height="7.40" rx="0.37" fill="#3d3fc0" transform="rotate(90.0 156.2 712.6999999999999)"/>
<rect x="155.31" y="709.00" width="1.78" height="7.40" rx="0.37" fill="#3d3fc0" transform="rotate(135.0 156.2 712.6999999999999)"/>
<circle cx="156.2" cy="712.6999999999999" r="1.55" fill="#fdfdff"/>
<text transform="translate(131.71,726.20) scale(0.9786,1)" font-family="'Liberation Sans', sans-serif" font-size="6.2" font-weight="bold" font-style="normal" fill="#17171b" >Configuring…</text>
<text transform="translate(127.94,733.90) scale(0.8945,1)" font-family="'Liberation Sans', sans-serif" font-size="3.39" font-weight="normal" font-style="normal" fill="#4a4a4e" opacity="0.85">This may take a few minutes. Keep</text>
<text transform="translate(131.50,737.75) scale(0.8694,1)" font-family="'Liberation Sans', sans-serif" font-size="3.39" font-weight="normal" font-style="normal" fill="#4a4a4e" opacity="0.85">the Phone connected to power</text>
<text transform="translate(128.48,741.60) scale(0.9951,1)" font-family="'Liberation Sans', sans-serif" font-size="3.39" font-weight="normal" font-style="normal" fill="#4a4a4e" opacity="0.85">until Configuration is complete.</text>
<rect x="119.5" y="762.2" width="62" height="1" rx="0.5" fill="#e3e3ea"/><rect x="119.5" y="762.1" width="10.8" height="1.2" rx="0.6" fill="#5a62c8"/>
<clipPath id="cc6"><rect x="332.9" y="676.4" width="108.7" height="176.2" rx="10.6"/></clipPath>
<rect x="329.5" y="673" width="115.5" height="183" rx="14.5" fill="#f1fbff"/>
<g clip-path="url(#cc6)">
<rect x="329.5" y="673" width="115.5" height="183" fill="url(#cg2)"/>
<rect x="329.5" y="682.8" width="115.5" height="3.3" fill="#f3fafe"/>
<rect x="329.5" y="688.6" width="56.39999999999998" height="27" fill="#f3fafe"/>
<text x="331.2" y="707.4" font-family="'Liberation Sans', sans-serif" font-style="italic" font-size="15.5" fill="#3f7f9a" opacity="0.8" textLength="11.5" lengthAdjust="spacingAndGlyphs">R/</text>
<rect x="385.9" y="696.8" width="115.5" height="2.4" fill="#f3fafe"/>
<rect x="385.9" y="701.5" width="115.5" height="14.3" fill="#f3fafe"/>
<text x="431.0" y="710.6" font-family="'Liberation Sans', sans-serif" font-size="4" fill="#b9c6d2">E › ·</text>
<rect x="342.2" y="717" width="1.6" height="123" fill="#9cc8ff" opacity="0.7"/>
<rect x="428.0" y="717" width="1.4" height="123" fill="#9cc8ff" opacity="0.5"/>
</g>
<rect x="343.4" y="676.8" width="85.0" height="175.10000000000002" rx="13.5" fill="#0a0a0d"/>
<rect x="346.29999999999995" y="679.6999999999999" width="79.2" height="169.8" rx="10.6" fill="#fdfdff"/>
<path d="M371.65,679.3 h28.5 v3.6999999999999993 a4,4 0 0 1 -4,4 h-20.5 a4,4 0 0 1 -4,-4 z" fill="#0a0a0d"/>
<text transform="translate(357.78,684.80) scale(1.1944,1)" font-family="'Liberation Sans', sans-serif" font-size="3.4" font-weight="bold" font-style="normal" fill="#444" >5:04</text>
<g fill="#555"><rect x="403.4" y="682.5999999999999" width="3" height="2.2" rx="0.4"/><rect x="407.4" y="682.4" width="2.6" height="2.4" rx="1"/><rect x="411.0" y="682.3" width="5" height="2.6" rx="0.7"/></g>
<g fill="none" stroke-linecap="round"><rect x="382.4" y="703.2" width="7.4" height="12" rx="1.6" stroke="#b9c8ee" stroke-width="1"/><path d="M387.6,711.6 l4.4,-4.6" stroke="#4a63d8" stroke-width="1.5"/></g>
<text transform="translate(367.07,726.20) scale(0.9806,1)" font-family="'Liberation Sans', sans-serif" font-size="6.2" font-weight="bold" font-style="normal" fill="#17171b" >Finish Repair</text>
<text transform="translate(364.74,733.40) scale(0.8995,1)" font-family="'Liberation Sans', sans-serif" font-size="3.28" font-weight="normal" font-style="normal" fill="#4a4a4e" opacity="0.85">Restart your device to complete the</text>
<text transform="translate(362.88,737.10) scale(0.9341,1)" font-family="'Liberation Sans', sans-serif" font-size="3.28" font-weight="normal" font-style="normal" fill="#4a4a4e" opacity="0.85">configuration of these replaced parts.</text>
<circle cx="361.6" cy="754" r="1.9" fill="#39b56a"/>
<text transform="translate(365.57,753.40) scale(1.0386,1)" font-family="'Liberation Sans', sans-serif" font-size="3.2" font-weight="bold" font-style="normal" fill="#222" >Battery</text>
<text transform="translate(365.70,757.00) scale(0.7447,1)" font-family="'Liberation Sans', sans-serif" font-size="2.6" font-weight="normal" font-style="normal" fill="#777" >Genuine Apple Part · Finish Repair</text>
<rect x="352.95" y="821.55" width="66.30" height="12.50" rx="1.8" fill="#f6e9f0" stroke="#c51a28" stroke-width="1.5"/>
<rect x="354.3" y="823.2" width="63.89999999999998" height="9.199999999999932" rx="1.8" fill="#2f52ea"/>
<text transform="translate(380.14,828.90) scale(0.8803,1)" font-family="'Liberation Sans', sans-serif" font-size="3.2" font-weight="bold" font-style="normal" fill="#e8ecff" >Continue</text>
<text transform="translate(380.74,839.90) scale(1.1034,1)" font-family="'Liberation Sans', sans-serif" font-size="2.9" font-weight="normal" font-style="normal" fill="#5b6fd8" >Cancel</text>
<clipPath id="cc7"><rect x="453.9" y="902.4" width="108.7" height="176.2" rx="10.6"/></clipPath>
<rect x="450.5" y="899" width="115.5" height="183" rx="14.5" fill="#f1fbff"/>
<g clip-path="url(#cc7)">
<rect x="450.5" y="899" width="115.5" height="183" fill="url(#cg2)"/>
<rect x="450.5" y="908.8" width="115.5" height="3.3" fill="#f3fafe"/>
<rect x="450.5" y="914.6" width="59.64999999999998" height="27" fill="#f3fafe"/>
<text x="454.8" y="933.4" font-family="'Liberation Sans', sans-serif" font-style="italic" font-size="15.5" fill="#3f7f9a" opacity="0.8" textLength="11.5" lengthAdjust="spacingAndGlyphs">R/</text>
<rect x="510.15" y="922.8" width="115.5" height="2.4" fill="#f3fafe"/>
<rect x="510.15" y="927.5" width="115.5" height="14.3" fill="#f3fafe"/>
<text x="555.9" y="936.6" font-family="'Liberation Sans', sans-serif" font-size="4" fill="#b9c6d2">E › ·</text>
<rect x="465.8" y="943" width="1.6" height="123" fill="#9cc8ff" opacity="0.7"/>
<rect x="552.9" y="943" width="1.4" height="123" fill="#9cc8ff" opacity="0.5"/>
</g>
<rect x="467" y="903.5" width="86.29999999999995" height="174.5" rx="13.5" fill="#0a0a0d"/>
<rect x="469.9" y="906.4" width="80.49999999999996" height="169.2" rx="10.6" fill="#fdfdff"/>
<path d="M495.9,906.0 h28.5 v3.6999999999999993 a4,4 0 0 1 -4,4 h-20.5 a4,4 0 0 1 -4,-4 z" fill="#0a0a0d"/>
<text transform="translate(481.38,911.30) scale(1.1944,1)" font-family="'Liberation Sans', sans-serif" font-size="3.4" font-weight="bold" font-style="normal" fill="#444" >5:04</text>
<g fill="#555"><rect x="528.3" y="909.0999999999999" width="3" height="2.2" rx="0.4"/><rect x="532.3" y="908.9" width="2.6" height="2.4" rx="1"/><rect x="535.9" y="908.8" width="5" height="2.6" rx="0.7"/></g>
<circle cx="506.7" cy="934.9000000000001" r="2.84" fill="none" stroke="#3d3fc0" stroke-width="2.15"/>
<rect x="505.67" y="930.60" width="2.06" height="8.60" rx="0.43" fill="#3d3fc0" transform="rotate(0.0 506.7 934.9000000000001)"/>
<rect x="505.67" y="930.60" width="2.06" height="8.60" rx="0.43" fill="#3d3fc0" transform="rotate(45.0 506.7 934.9000000000001)"/>
<rect x="505.67" y="930.60" width="2.06" height="8.60" rx="0.43" fill="#3d3fc0" transform="rotate(90.0 506.7 934.9000000000001)"/>
<rect x="505.67" y="930.60" width="2.06" height="8.60" rx="0.43" fill="#3d3fc0" transform="rotate(135.0 506.7 934.9000000000001)"/>
<circle cx="506.7" cy="934.9000000000001" r="1.81" fill="#fdfdff"/>
<circle cx="515.0" cy="939.5" r="2.44" fill="none" stroke="#3d3fc0" stroke-width="1.85"/>
<rect x="514.11" y="935.80" width="1.78" height="7.40" rx="0.37" fill="#3d3fc0" transform="rotate(0.0 515.0 939.5)"/>
<rect x="514.11" y="935.80" width="1.78" height="7.40" rx="0.37" fill="#3d3fc0" transform="rotate(45.0 515.0 939.5)"/>
<rect x="514.11" y="935.80" width="1.78" height="7.40" rx="0.37" fill="#3d3fc0" transform="rotate(90.0 515.0 939.5)"/>
<rect x="514.11" y="935.80" width="1.78" height="7.40" rx="0.37" fill="#3d3fc0" transform="rotate(135.0 515.0 939.5)"/>
<circle cx="515.0" cy="939.5" r="1.55" fill="#fdfdff"/>
<text transform="translate(491.06,953.60) scale(0.9663,1)" font-family="'Liberation Sans', sans-serif" font-size="6.2" font-weight="bold" font-style="normal" fill="#17171b" >Configuring…</text>
<text transform="translate(487.44,960.70) scale(0.8850,1)" font-family="'Liberation Sans', sans-serif" font-size="3.39" font-weight="normal" font-style="normal" fill="#4a4a4e" opacity="0.85">This may take a few minutes. Keep</text>
<text transform="translate(490.96,964.65) scale(0.8602,1)" font-family="'Liberation Sans', sans-serif" font-size="3.39" font-weight="normal" font-style="normal" fill="#4a4a4e" opacity="0.85">the Phone connected to power</text>
<text transform="translate(487.97,968.60) scale(0.9845,1)" font-family="'Liberation Sans', sans-serif" font-size="3.39" font-weight="normal" font-style="normal" fill="#4a4a4e" opacity="0.85">until Configuration is complete.</text>
<rect x="479" y="988.5" width="61.2" height="1" rx="0.5" fill="#e3e3ea"/><rect x="479" y="988.4" width="10.6" height="1.2" rx="0.6" fill="#5a62c8"/>
<clipPath id="cc8"><rect x="216.9" y="902.4" width="108.2" height="176.2" rx="10.6"/></clipPath>
<rect x="213.5" y="899" width="115.0" height="183" rx="14.5" fill="#f1fbff"/>
<g clip-path="url(#cc8)">
<rect x="213.5" y="899" width="115.0" height="183" fill="url(#cg2)"/>
<rect x="213.5" y="908.8" width="115.0" height="3.3" fill="#f3fafe"/>
<rect x="213.5" y="914.6" width="57.89999999999998" height="27" fill="#f3fafe"/>
<text x="216.8" y="933.4" font-family="'Liberation Sans', sans-serif" font-style="italic" font-size="15.5" fill="#3f7f9a" opacity="0.8" textLength="11.5" lengthAdjust="spacingAndGlyphs">R/</text>
<rect x="271.4" y="922.8" width="115.0" height="2.4" fill="#f3fafe"/>
<rect x="271.4" y="927.5" width="115.0" height="14.3" fill="#f3fafe"/>
<text x="316.40000000000003" y="936.6" font-family="'Liberation Sans', sans-serif" font-size="4" fill="#b9c6d2">E › ·</text>
<rect x="227.8" y="943" width="1.6" height="123" fill="#9cc8ff" opacity="0.7"/>
<rect x="313.40000000000003" y="943" width="1.4" height="123" fill="#9cc8ff" opacity="0.5"/>
</g>
<rect x="229" y="902.8" width="84.80000000000001" height="175.20000000000005" rx="13.5" fill="#0a0a0d"/>
<rect x="231.9" y="905.6999999999999" width="79.00000000000001" height="169.90000000000003" rx="10.6" fill="#fdfdff"/>
<path d="M257.15,905.3 h28.5 v3.6999999999999993 a4,4 0 0 1 -4,4 h-20.5 a4,4 0 0 1 -4,-4 z" fill="#0a0a0d"/>
<text transform="translate(243.38,910.60) scale(1.2191,1)" font-family="'Liberation Sans', sans-serif" font-size="3.4" font-weight="bold" font-style="normal" fill="#444" >5:07</text>
<g fill="#555"><rect x="288.8" y="908.3999999999999" width="3" height="2.2" rx="0.4"/><rect x="292.8" y="908.1999999999999" width="2.6" height="2.4" rx="1"/><rect x="296.40000000000003" y="908.0999999999999" width="5" height="2.6" rx="0.7"/></g>
<circle cx="271.7" cy="937.5" r="5.6" fill="#fdfdff" stroke="#b8c4de" stroke-width="0.9"/><path d="M269.3,937.6 l1.8,1.9 l3.2,-3.8" fill="none" stroke="#3f55b8" stroke-width="1.1" stroke-linecap="round" stroke-linejoin="round"/>
<text transform="translate(263.85,953.60) scale(1.0349,1)" font-family="'Liberation Sans', sans-serif" font-size="6.2" font-weight="bold" font-style="normal" fill="#17171b" >Done</text>
<text transform="translate(247.89,960.70) scale(0.9641,1)" font-family="'Liberation Sans', sans-serif" font-size="3.39" font-weight="normal" font-style="normal" fill="#4a4a4e" opacity="0.85">Your iPhone has been configured.</text>
<text transform="translate(247.72,964.65) scale(0.9893,1)" font-family="'Liberation Sans', sans-serif" font-size="3.39" font-weight="normal" font-style="normal" fill="#4a4a4e" opacity="0.85">Restart to apply the changes and</text>
<text transform="translate(245.56,968.60) scale(1.0190,1)" font-family="'Liberation Sans', sans-serif" font-size="3.39" font-weight="normal" font-style="normal" fill="#4a4a4e" opacity="0.85">complete the repair of your iPhone.</text>
<rect x="237.75" y="1049.25" width="65.90" height="12.10" rx="1.8" fill="#f6e9f0" stroke="#c51a28" stroke-width="1.5"/>
<rect x="239" y="1050.5" width="63.80000000000001" height="9.5" rx="1.8" fill="#2f52ea"/>
<text transform="translate(265.17,1056.35) scale(1.0231,1)" font-family="'Liberation Sans', sans-serif" font-size="3.2" font-weight="bold" font-style="normal" fill="#e8ecff" >Restart</text>
<g id="logo">
<circle cx="239.7" cy="39.5" r="14" fill="#ffffff"/>
<circle cx="239.7" cy="39.5" r="8.8" fill="#0d6cbc"/>
<path d="M232.2,38.2 c2.5,-4.2 8.5,-5.6 13.2,-2.6 l-2.2,0.4 c-3.2,-1.2 -6.6,-0.6 -8.6,2.2 z M247.2,40.8 c-2.5,4.2 -8.5,5.6 -13.2,2.6 l2.2,-0.4 c3.2,1.2 6.6,0.6 8.6,-2.2 z M233,40.2 h10.5 l-1.2,1.4 h-10.3 z M236.4,37.6 h10.4 l-1,1.4 h-10.5 z" fill="#bfe4ff"/>
<path d="M230.6,35.2 A10.9,10.9 0 0 1 249.2,35.6" fill="none" stroke="#6aa6dc" stroke-width="2" stroke-dasharray="1.7 1.1"/>
</g>
<text transform="translate(256.24,52.10) scale(0.8589,1)" font-family="'Liberation Sans', sans-serif" font-size="37.2" font-weight="normal" font-style="italic" fill="#fff" stroke="#ffffff" stroke-width="0.5">FORWARD</text>
<text transform="translate(199.10,158.20) scale(1.0254,1)" font-family="'DejaVu Sans', sans-serif" font-size="20.6" font-weight="bold" font-style="normal" fill="#fff" stroke="#ffffff" stroke-width="0.5">Diagnostico de bateria</text>
<text transform="translate(157.68,177.50) scale(0.9785,1)" font-family="'DejaVu Sans', sans-serif" font-size="12.3" font-weight="bold" font-style="normal" fill="#fff" stroke="#ffffff" stroke-width="0.35">Asegurese  que el telefono tenga iOS 18 o superior</text>
<text transform="translate(97.48,197.80) scale(0.9144,1)" font-family="'Liberation Sans', sans-serif" font-size="12.6" font-weight="normal" font-style="normal" fill="#fff" >Ruta:Ajustes-- General--</text>
<text transform="translate(61.00,212.70) scale(0.8981,1)" font-family="'Liberation Sans', sans-serif" font-size="12.6" font-weight="normal" font-style="normal" fill="#fff" >Acerca de...-- Historial de piezas y servicio</text>
<text transform="translate(222.93,360.00) scale(0.9705,1)" font-family="'Liberation Sans', sans-serif" font-size="11.8" font-weight="normal" font-style="normal" fill="#fff" >Click en “Reiniciar</text>
<text transform="translate(216.00,374.50) scale(0.9774,1)" font-family="'Liberation Sans', sans-serif" font-size="11.8" font-weight="normal" font-style="normal" fill="#fff" >y finalizar reparacion”</text>
<text transform="translate(450.86,295.00) scale(1.0217,1)" font-family="'Liberation Sans', sans-serif" font-size="12.5" font-weight="normal" font-style="normal" fill="#fff" >Click “Continuar”</text>
<text transform="translate(378.53,521.20) scale(0.9724,1)" font-family="'Liberation Sans', sans-serif" font-size="11.8" font-weight="normal" font-style="normal" fill="#fff" stroke="#ffffff" stroke-width="0.35">Conectar a la</text>
<text transform="translate(388.86,535.90) scale(1.0118,1)" font-family="'Liberation Sans', sans-serif" font-size="11.8" font-weight="normal" font-style="normal" fill="#fff" stroke="#ffffff" stroke-width="0.35">red Wi-Fi</text>
<text transform="translate(72.40,524.20) scale(0.9812,1)" font-family="'Liberation Sans', sans-serif" font-size="11.8" font-weight="normal" font-style="normal" fill="#fff" stroke="#ffffff" stroke-width="0.35">Aceptar que Apple recopile</text>
<text transform="translate(85.55,537.80) scale(0.9584,1)" font-family="'Liberation Sans', sans-serif" font-size="11.8" font-weight="normal" font-style="normal" fill="#fff" stroke="#ffffff" stroke-width="0.35">datos de diagnostico</text>
<text transform="translate(214.82,748.00) scale(0.9865,1)" font-family="'Liberation Sans', sans-serif" font-size="11.8" font-weight="normal" font-style="normal" fill="#fff" >Configurando</text>
<text transform="translate(449.07,752.20) scale(1.0152,1)" font-family="'Liberation Sans', sans-serif" font-size="12.5" font-weight="normal" font-style="normal" fill="#fff" >Click “Continuar”</text>
<text transform="translate(375.72,977.20) scale(0.9779,1)" font-family="'Liberation Sans', sans-serif" font-size="11.8" font-weight="normal" font-style="normal" fill="#fff" >Configurando</text>
<text transform="translate(130.12,975.90) scale(0.9323,1)" font-family="'Liberation Sans', sans-serif" font-size="11.8" font-weight="normal" font-style="normal" fill="#fff" stroke="#ffffff" stroke-width="0.35">Reiniciar, hecho</text>
<circle cx="217.8" cy="341.5" r="6.4" fill="#ffffff"/>
<text x="217.8" y="344.9" text-anchor="middle" font-family="'Liberation Sans', sans-serif" font-weight="bold" font-size="9.6" fill="#d3141a" stroke="#d3141a" stroke-width="0.6">1</text>
<circle cx="456.7" cy="274.9" r="6.4" fill="#ffffff"/>
<text x="456.7" y="278.29999999999995" text-anchor="middle" font-family="'Liberation Sans', sans-serif" font-weight="bold" font-size="9.6" fill="#d3141a" stroke="#d3141a" stroke-width="0.6">2</text>
<circle cx="443.6" cy="504.5" r="6.4" fill="#ffffff"/>
<text x="443.6" y="507.9" text-anchor="middle" font-family="'Liberation Sans', sans-serif" font-weight="bold" font-size="9.6" fill="#d3141a" stroke="#d3141a" stroke-width="0.6">3</text>
<circle cx="206" cy="504.9" r="6.4" fill="#ffffff"/>
<text x="206" y="508.29999999999995" text-anchor="middle" font-family="'Liberation Sans', sans-serif" font-weight="bold" font-size="9.6" fill="#d3141a" stroke="#d3141a" stroke-width="0.6">4</text>
<circle cx="218.6" cy="726.7" r="6.4" fill="#ffffff"/>
<text x="218.6" y="730.1" text-anchor="middle" font-family="'Liberation Sans', sans-serif" font-weight="bold" font-size="9.6" fill="#d3141a" stroke="#d3141a" stroke-width="0.6">5</text>
<circle cx="456.3" cy="728.2" r="6.4" fill="#ffffff"/>
<text x="456.3" y="731.6" text-anchor="middle" font-family="'Liberation Sans', sans-serif" font-weight="bold" font-size="9.6" fill="#d3141a" stroke="#d3141a" stroke-width="0.6">6</text>
<circle cx="440.4" cy="957.1" r="6.4" fill="#ffffff"/>
<text x="440.4" y="960.5" text-anchor="middle" font-family="'Liberation Sans', sans-serif" font-weight="bold" font-size="9.6" fill="#d3141a" stroke="#d3141a" stroke-width="0.6">7</text>
<circle cx="204.2" cy="957.6" r="6.4" fill="#ffffff"/>
<text x="204.2" y="961.0" text-anchor="middle" font-family="'Liberation Sans', sans-serif" font-weight="bold" font-size="9.6" fill="#d3141a" stroke="#d3141a" stroke-width="0.6">8</text>
<clipPath id="tclip"><rect x="42" y="81.4" width="565" height="48.2"/></clipPath><g clip-path="url(#tclip)"><g filter="url(#fat)"><text id="title" transform="translate(94.5,123.2) scale(0.545,1)" font-family="'Liberation Sans', sans-serif" font-weight="bold" font-size="63" letter-spacing="9.2" word-spacing="-9" fill="#0476c6"><tspan font-size="59">C</tspan>ómo diagnosticarla?</text></g></g>
<g id="products">
<defs><linearGradient id="bx1" x1="0" y1="0" x2="0" y2="1"><stop offset="0" stop-color="#1c74d4"/><stop offset="1" stop-color="#2a86e4"/></linearGradient><linearGradient id="bph" x1="0" y1="0" x2="1" y2="1"><stop offset="0" stop-color="#22345c"/><stop offset="0.45" stop-color="#53648e"/><stop offset="1" stop-color="#777c94"/></linearGradient></defs>
<rect x="134.2" y="1073.6" width="9" height="9" rx="2" fill="#1a66c0"/><ellipse cx="138.8" cy="1077.6" rx="1.3" ry="2.8" fill="#0e2f5c"/>
<path d="M112.6,1082.2 L163.4,1081 V1170.3 L112.6,1171.3 z" fill="url(#bx1)"/>
<path d="M112.6,1082.2 l2.6,-0.1 V1171.2 L112.6,1171.3 z" fill="#145cb4"/>
<text transform="translate(116.06,1090.40) scale(0.9948,1)" font-family="'Liberation Sans', sans-serif" font-size="4.6" font-weight="normal" font-style="italic" fill="#dfeafa" >FORWARD</text>
<rect x="144.2" y="1085" width="17.6" height="10.6" rx="0.8" fill="#f4f6fa"/><path d="M145,1086 h6 v4 h4 v-3 h6 v4 h-5 v4 h-6 v-3 h-5 z" fill="#1b1d22"/>
<text transform="translate(146.39,1094.60) scale(1.1574,1)" font-family="'Liberation Sans', sans-serif" font-size="2.4" font-weight="bold" font-style="normal" fill="#f4f6fa" >QR</text>
<rect x="115.2" y="1098.6" width="28.4" height="50.6" rx="3" fill="url(#bph)"/>
<rect x="127.6" y="1109.6" width="15.2" height="36.6" rx="1" fill="#1b1d23"/>
<rect x="131" y="1117.4" width="8.6" height="2.4" fill="#d9dce2"/>
<text transform="translate(131.49,1119.40) scale(0.8617,1)" font-family="'Liberation Sans', sans-serif" font-size="1.9" font-weight="bold" font-style="normal" fill="#1b1d23" >BATTERY</text>
<rect x="130.4" y="1122.6" width="9.8" height="0.8" fill="#5d626c"/>
<rect x="130.4" y="1126.0" width="7.4" height="0.8" fill="#5d626c"/>
<rect x="130.4" y="1129.3999999999999" width="9.8" height="0.8" fill="#5d626c"/>
<rect x="130.4" y="1132.8" width="7.4" height="0.8" fill="#5d626c"/>
<rect x="130.4" y="1136.1999999999998" width="9.8" height="0.8" fill="#5d626c"/>
<text transform="translate(155.8,1152.6) rotate(-90) scale(0.74,1)" font-family="'Liberation Sans', sans-serif" font-weight="bold" font-size="7.6" fill="#ffffff" stroke="#ffffff" stroke-width="0.5">PHONE BATTERY</text>
<rect x="116" y="1154.0" width="2.6" height="2.6" rx="0.6" fill="#cfe2fa"/>
<text transform="translate(119.95,1156.20) scale(0.7048,1)" font-family="'Liberation Sans', sans-serif" font-size="2.5" font-weight="normal" font-style="normal" fill="#cfe2fa" >Zero cycle</text>
<rect x="116" y="1159.1" width="2.6" height="2.6" rx="0.6" fill="#cfe2fa"/>
<text transform="translate(119.87,1161.30) scale(0.6419,1)" font-family="'Liberation Sans', sans-serif" font-size="2.5" font-weight="normal" font-style="normal" fill="#cfe2fa" >High capacity</text>
<rect x="116" y="1164.2" width="2.6" height="2.6" rx="0.6" fill="#cfe2fa"/>
<text transform="translate(119.91,1166.40) scale(0.7521,1)" font-family="'Liberation Sans', sans-serif" font-size="2.5" font-weight="normal" font-style="normal" fill="#cfe2fa" >Safe &amp; stable</text>
<circle cx="153.2" cy="1161.6" r="5.8" fill="#eaf3fd"/><circle cx="153.2" cy="1161.6" r="4.2" fill="none" stroke="#2a7ad6" stroke-width="0.7"/>
<text transform="translate(149.73,1162.60) scale(0.9081,1)" font-family="'Liberation Sans', sans-serif" font-size="2.6" font-weight="bold" font-style="normal" fill="#1f6fcc" >2 Year</text>
<path d="M186.8,1111.5 a1.5,1.5 0 0 1 1.5,-1.5 H212.3 a1.5,1.5 0 0 1 1.5,1.5 V1165.3 a1.5,1.5 0 0 1 -1.5,1.5 H173.1 a1.5,1.5 0 0 1 -1.5,-1.5 V1142.5 a1.5,1.5 0 0 1 1.5,-1.5 H186.8 z" fill="#25272d"/>
<rect x="180.4" y="1138.4" width="1.2" height="2.6" fill="#25272d"/>
<text transform="translate(193.62,1116.40) scale(0.7890,1)" font-family="'Liberation Sans', sans-serif" font-size="3.3" font-weight="normal" font-style="italic" fill="#b9bcc4" >FORWARD</text>
<rect x="193.5" y="1121.4" width="13.6" height="3.2" rx="0.5" fill="#e9ebef"/>
<text transform="translate(194.94,1124.00) scale(0.9204,1)" font-family="'Liberation Sans', sans-serif" font-size="2.5" font-weight="bold" font-style="normal" fill="#25272d" >BATTERY</text>
<text transform="translate(192.16,1129.40) scale(0.7561,1)" font-family="'Liberation Sans', sans-serif" font-size="2.3" font-weight="normal" font-style="normal" fill="#7d828c" >Li-ion Polymer 3.85V</text>
<text transform="translate(192.22,1132.60) scale(0.6843,1)" font-family="'Liberation Sans', sans-serif" font-size="2.3" font-weight="normal" font-style="normal" fill="#7d828c" >Capacity 3110mAh</text>
<text transform="translate(192.11,1135.80) scale(1.0337,1)" font-family="'Liberation Sans', sans-serif" font-size="2.3" font-weight="normal" font-style="normal" fill="#7d828c" >Rated 11.91Wh</text>
<text transform="translate(192.16,1139.00) scale(0.7379,1)" font-family="'Liberation Sans', sans-serif" font-size="2.3" font-weight="normal" font-style="normal" fill="#7d828c" >Model A2221 616</text>
<text transform="translate(192.12,1142.20) scale(0.9648,1)" font-family="'Liberation Sans', sans-serif" font-size="2.3" font-weight="normal" font-style="normal" fill="#7d828c" >Made for iPhone</text>
<text transform="translate(178.39,1156.40) scale(1.3302,1)" font-family="'Liberation Sans', sans-serif" font-size="3.2" font-weight="normal" font-style="normal" fill="#d5d7dc" >CE FC ♻ ⚠ ☒</text>
<text transform="translate(178.35,1160.60) scale(1.4088,1)" font-family="'Liberation Sans', sans-serif" font-size="2.2" font-weight="normal" font-style="normal" fill="#7d828c" >Li-ion 00 · 2024</text>
<rect x="225.8" y="1106.8" width="29.0" height="60.0" rx="1.6" fill="#25272d"/>
<rect x="226.8" y="1107.8" width="27.0" height="58.0" rx="1.2" fill="none" stroke="#3a3d45" stroke-width="0.6"/>
<text transform="translate(233.22,1113.00) scale(0.8122,1)" font-family="'Liberation Sans', sans-serif" font-size="3.4" font-weight="normal" font-style="italic" fill="#b9bcc4" >FORWARD</text>
<rect x="232.9" y="1118.3999999999999" width="14.8" height="3.4" rx="0.5" fill="#e9ebef"/>
<text transform="translate(234.53,1121.20) scale(0.9530,1)" font-family="'Liberation Sans', sans-serif" font-size="2.6" font-weight="bold" font-style="normal" fill="#25272d" >BATTERY</text>
<text transform="translate(231.65,1126.40) scale(0.7699,1)" font-family="'Liberation Sans', sans-serif" font-size="2.4" font-weight="normal" font-style="normal" fill="#7d828c" >Li-ion Polymer 3.85V</text>
<text transform="translate(231.72,1129.70) scale(0.7062,1)" font-family="'Liberation Sans', sans-serif" font-size="2.4" font-weight="normal" font-style="normal" fill="#7d828c" >Capacity 3110mAh</text>
<text transform="translate(231.60,1133.00) scale(1.0525,1)" font-family="'Liberation Sans', sans-serif" font-size="2.4" font-weight="normal" font-style="normal" fill="#7d828c" >Rated 11.91Wh</text>
<text transform="translate(231.65,1136.30) scale(0.7615,1)" font-family="'Liberation Sans', sans-serif" font-size="2.4" font-weight="normal" font-style="normal" fill="#7d828c" >Model A2221 616</text>
<text transform="translate(231.61,1139.60) scale(0.9824,1)" font-family="'Liberation Sans', sans-serif" font-size="2.4" font-weight="normal" font-style="normal" fill="#7d828c" >Made for iPhone</text>
<text transform="translate(229.64,1156.60) scale(0.9781,1)" font-family="'Liberation Sans', sans-serif" font-size="3.2" font-weight="normal" font-style="normal" fill="#d5d7dc" >CE FC ♻ ⚠ ☒</text>
<text transform="translate(229.61,1160.80) scale(1.0633,1)" font-family="'Liberation Sans', sans-serif" font-size="2.2" font-weight="normal" font-style="normal" fill="#7d828c" >Li-ion 00 · 2024</text>
<defs><linearGradient id="bx2" x1="0" y1="0" x2="0" y2="1"><stop offset="0" stop-color="#1a6fd2"/><stop offset="1" stop-color="#2379dc"/></linearGradient></defs>
<rect x="406.2" y="1072.4" width="9" height="9.4" rx="2" fill="#1a66c0"/><ellipse cx="410.6" cy="1076.2" rx="1.3" ry="2.8" fill="#0e2f5c"/>
<path d="M386.8,1082 L436.2,1081 V1168.8 L386.8,1169.6 z" fill="url(#bx2)"/>
<path d="M386.8,1151.6 H436.2 V1168.8 L386.8,1169.6 z" fill="#e6eef9"/>
<path d="M386.8,1082 l2.4,-0.05 V1169.55 L386.8,1169.6 z" fill="#155db6"/>
<text transform="translate(390.66,1087.80) scale(0.9948,1)" font-family="'Liberation Sans', sans-serif" font-size="4.6" font-weight="normal" font-style="italic" fill="#dfeafa" >FORWARD</text>
<rect x="417.2" y="1084.4" width="18.2" height="10.6" rx="1" fill="#20232a"/><rect x="418.4" y="1085.6" width="15.8" height="3.8" fill="#f0f2f6"/>
<text transform="translate(420.25,1088.80) scale(1.2716,1)" font-family="'Liberation Sans', sans-serif" font-size="2.8" font-weight="bold" font-style="normal" fill="#20232a" >iPhone</text>
<text transform="translate(419.34,1093.60) scale(1.1435,1)" font-family="'Liberation Sans', sans-serif" font-size="2.8" font-weight="bold" font-style="normal" fill="#e8eaee" >3110mAh</text>
<rect x="406.6" y="1103" width="24.2" height="46.4" rx="1.2" fill="#23252b"/>
<text transform="translate(412.93,1108.60) scale(0.8453,1)" font-family="'Liberation Sans', sans-serif" font-size="2.8" font-weight="normal" font-style="italic" fill="#aab0bb" >FORWARD</text>
<rect x="412.4" y="1112.4" width="13" height="2.8" fill="#dfe2e8"/>
<text transform="translate(413.85,1114.70) scale(1.0056,1)" font-family="'Liberation Sans', sans-serif" font-size="2.2" font-weight="bold" font-style="normal" fill="#23252b" >BATTERY</text>
<rect x="416" y="1118.4" width="12" height="0.8" fill="#5d626c"/>
<rect x="416" y="1122.0" width="9" height="0.8" fill="#5d626c"/>
<rect x="416" y="1125.6000000000001" width="12" height="0.8" fill="#5d626c"/>
<rect x="416" y="1129.2" width="9" height="0.8" fill="#5d626c"/>
<rect x="416" y="1132.8000000000002" width="12" height="0.8" fill="#5d626c"/>
<rect x="416" y="1136.4" width="9" height="0.8" fill="#5d626c"/>
<rect x="419" y="1124.6" width="10.4" height="3.4" rx="1.4" fill="#d9dce2"/>
<g><ellipse cx="403" cy="1119.4" rx="9.6" ry="8.8" fill="#2f7fe0"/><ellipse cx="403" cy="1118" rx="7.4" ry="6.6" fill="#eef4fc"/><rect x="396.6" y="1116.2" width="12.8" height="5.2" rx="2.6" fill="#14233f"/><circle cx="400" cy="1118.8" r="1" fill="#6fd0ff"/><circle cx="406" cy="1118.8" r="1" fill="#6fd0ff"/><path d="M397.6,1111.4 l5.4,-3 l5.4,3 z" fill="#2f7fe0"/>
<rect x="397.6" y="1128.4" width="10.8" height="10.6" rx="3" fill="#f2f6fc"/><rect x="399.8" y="1130.4" width="6.4" height="4.6" rx="1.2" fill="#2f7fe0"/><rect x="392.4" y="1129.4" width="5" height="7.2" rx="2.4" fill="#3a88e6"/><rect x="408.6" y="1129.4" width="5" height="7.2" rx="2.4" fill="#3a88e6"/><rect x="397.6" y="1139" width="4.6" height="10.6" rx="2" fill="#3a88e6"/><rect x="403.8" y="1139" width="4.6" height="10.6" rx="2" fill="#3a88e6"/><rect x="396.4" y="1146.6" width="6.6" height="4.6" rx="1.6" fill="#eef4fc"/><rect x="403.2" y="1146.6" width="6.6" height="4.6" rx="1.6" fill="#eef4fc"/></g>
<text transform="translate(397.13,1157.40) scale(0.8269,1)" font-family="'Liberation Sans', sans-serif" font-size="4.6" font-weight="bold" font-style="normal" fill="#1c68cc" stroke="#1c68cc" stroke-width="0.3">PHONE BATTERY</text>
<text transform="translate(397.43,1160.60) scale(0.9881,1)" font-family="'Liberation Sans', sans-serif" font-size="2.1" font-weight="normal" font-style="normal" fill="#7a9fd0" >FOR iPHONE · HIGH CAPACITY</text>
<rect x="393.0" y="1163" width="6.6" height="3" rx="0.8" fill="#c3d6f0"/>
<rect x="403.4" y="1163" width="6.6" height="3" rx="0.8" fill="#c3d6f0"/>
<rect x="413.8" y="1163" width="6.6" height="3" rx="0.8" fill="#c3d6f0"/>
<rect x="424.2" y="1163" width="6.6" height="3" rx="0.8" fill="#c3d6f0"/>
<path d="M457.9,1111.5 a1.5,1.5 0 0 1 1.5,-1.5 H484.1 a1.5,1.5 0 0 1 1.5,1.5 V1165.3 a1.5,1.5 0 0 1 -1.5,1.5 H445.5 a1.5,1.5 0 0 1 -1.5,-1.5 V1143.9 a1.5,1.5 0 0 1 1.5,-1.5 H457.9 z" fill="#25272d"/>
<rect x="451.5" y="1139.8000000000002" width="1.2" height="2.6" fill="#25272d"/>
<text transform="translate(465.07,1116.40) scale(0.7890,1)" font-family="'Liberation Sans', sans-serif" font-size="3.3" font-weight="normal" font-style="italic" fill="#b9bcc4" >FORWARD</text>
<rect x="464.95" y="1121.4" width="13.6" height="3.2" rx="0.5" fill="#e9ebef"/>
<text transform="translate(466.39,1124.00) scale(0.9204,1)" font-family="'Liberation Sans', sans-serif" font-size="2.5" font-weight="bold" font-style="normal" fill="#25272d" >BATTERY</text>
<text transform="translate(463.61,1129.40) scale(0.7561,1)" font-family="'Liberation Sans', sans-serif" font-size="2.3" font-weight="normal" font-style="normal" fill="#7d828c" >Li-ion Polymer 3.85V</text>
<text transform="translate(463.67,1132.60) scale(0.6843,1)" font-family="'Liberation Sans', sans-serif" font-size="2.3" font-weight="normal" font-style="normal" fill="#7d828c" >Capacity 3110mAh</text>
<text transform="translate(463.56,1135.80) scale(1.0337,1)" font-family="'Liberation Sans', sans-serif" font-size="2.3" font-weight="normal" font-style="normal" fill="#7d828c" >Rated 11.91Wh</text>
<text transform="translate(463.61,1139.00) scale(0.7379,1)" font-family="'Liberation Sans', sans-serif" font-size="2.3" font-weight="normal" font-style="normal" fill="#7d828c" >Model A2221 616</text>
<text transform="translate(463.57,1142.20) scale(0.9648,1)" font-family="'Liberation Sans', sans-serif" font-size="2.3" font-weight="normal" font-style="normal" fill="#7d828c" >Made for iPhone</text>
<text transform="translate(450.79,1156.40) scale(1.3009,1)" font-family="'Liberation Sans', sans-serif" font-size="3.2" font-weight="normal" font-style="normal" fill="#d5d7dc" >CE FC ♻ ⚠ ☒</text>
<text transform="translate(450.76,1160.60) scale(1.3690,1)" font-family="'Liberation Sans', sans-serif" font-size="2.2" font-weight="normal" font-style="normal" fill="#7d828c" >Li-ion 00 · 2024</text>
<rect x="498" y="1106.8" width="29.600000000000023" height="60.0" rx="1.6" fill="#25272d"/>
<rect x="499" y="1107.8" width="27.600000000000023" height="58.0" rx="1.2" fill="none" stroke="#3a3d45" stroke-width="0.6"/>
<text transform="translate(505.72,1113.00) scale(0.8122,1)" font-family="'Liberation Sans', sans-serif" font-size="3.4" font-weight="normal" font-style="italic" fill="#b9bcc4" >FORWARD</text>
<rect x="505.4" y="1118.3999999999999" width="14.8" height="3.4" rx="0.5" fill="#e9ebef"/>
<text transform="translate(507.03,1121.20) scale(0.9530,1)" font-family="'Liberation Sans', sans-serif" font-size="2.6" font-weight="bold" font-style="normal" fill="#25272d" >BATTERY</text>
<text transform="translate(504.15,1126.40) scale(0.7699,1)" font-family="'Liberation Sans', sans-serif" font-size="2.4" font-weight="normal" font-style="normal" fill="#7d828c" >Li-ion Polymer 3.85V</text>
<text transform="translate(504.22,1129.70) scale(0.7062,1)" font-family="'Liberation Sans', sans-serif" font-size="2.4" font-weight="normal" font-style="normal" fill="#7d828c" >Capacity 3110mAh</text>
<text transform="translate(504.10,1133.00) scale(1.0525,1)" font-family="'Liberation Sans', sans-serif" font-size="2.4" font-weight="normal" font-style="normal" fill="#7d828c" >Rated 11.91Wh</text>
<text transform="translate(504.15,1136.30) scale(0.7615,1)" font-family="'Liberation Sans', sans-serif" font-size="2.4" font-weight="normal" font-style="normal" fill="#7d828c" >Model A2221 616</text>
<text transform="translate(504.11,1139.60) scale(0.9824,1)" font-family="'Liberation Sans', sans-serif" font-size="2.4" font-weight="normal" font-style="normal" fill="#7d828c" >Made for iPhone</text>
<text transform="translate(501.84,1156.60) scale(1.0074,1)" font-family="'Liberation Sans', sans-serif" font-size="3.2" font-weight="normal" font-style="normal" fill="#d5d7dc" >CE FC ♻ ⚠ ☒</text>
<text transform="translate(501.81,1160.80) scale(1.1031,1)" font-family="'Liberation Sans', sans-serif" font-size="2.2" font-weight="normal" font-style="normal" fill="#7d828c" >Li-ion 00 · 2024</text>
</g>
</svg>
</body></html>
